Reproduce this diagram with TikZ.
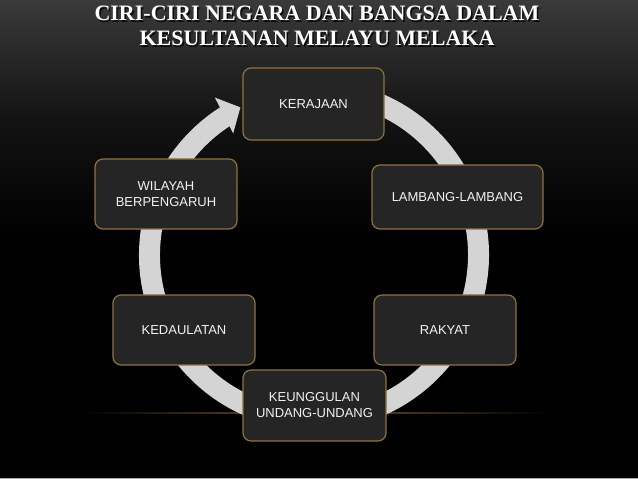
\documentclass[tikz,border=0pt]{standalone}
\usepackage{fontspec}
\setmainfont{Liberation Sans}
\newfontfamily\titlefont{Liberation Serif}
\definecolor{boxfill}{HTML}{252525}
\definecolor{boxedge}{HTML}{8E723E}
\definecolor{ringgray}{HTML}{D4D4D4}
\definecolor{bgtop}{HTML}{3A3A3A}
\definecolor{bgmid}{HTML}{131313}
\definecolor{glow}{HTML}{6A5228}
\definecolor{boxtext}{HTML}{F2F2F2}
\begin{document}
\begin{tikzpicture}[x=1pt,y=1pt,
  item/.style={draw=boxedge, line width=1.2pt, fill=boxfill, rounded corners=8pt,
    minimum width=142pt, minimum height=70pt, align=center, text=boxtext,
    font=\fontsize{13}{16}\selectfont, inner sep=0pt},
  titletext/.style={font=\titlefont\bfseries\fontsize{22}{25}\selectfont, anchor=base, inner sep=0pt},
  ring/.style={draw=ringgray, line width=21pt}
]
\useasboundingbox (0,0) rectangle (638,479);
% background
\fill[black] (0,0) rectangle (638,479);
\shade[top color=bgtop, bottom color=black, middle color=bgmid] (0,240) rectangle (638,479);
\fill[gray!70] (0,0) rectangle (638,1.2);
% glow line
\shade[left color=black, right color=black, middle color=glow] (80,65.2) rectangle (550,66.8);
% ring with arrow
\coordinate (c) at (314,224);
\path (c) ++(80:164.5) coordinate (rs);
\draw[ring] (rs) arc[start angle=80, end angle=-237.5, radius=164.5];
\fill[ringgray] ([shift={(122.2:186)}]c) -- ([shift={(116.5:165)}]c) -- ([shift={(123.6:146)}]c) -- cycle;
% title
\node[titletext, text=black, opacity=0.8] (t1s) at (318.5,456.5) {CIRI-CIRI NEGARA DAN BANGSA DALAM};
\node[titletext, text=black, opacity=0.8] (t2s) at (318.5,431.5) {KESULTANAN MELAYU MELAKA};
\node[titletext, text=white] (t1) at (317,458) {CIRI-CIRI NEGARA DAN BANGSA DALAM};
\node[titletext, text=white] (t2) at (317,433) {KESULTANAN MELAYU MELAKA};
% boxes
\node[item, minimum width=141pt, minimum height=72pt] (kerajaan) at (313.5,375) {KERAJAAN};
\node[item, minimum width=171pt, minimum height=64pt] (lambang) at (457.5,282) {LAMBANG-LAMBANG};
\node[item] (wilayah) at (166,285) {WILAYAH\\BERPENGARUH};
\node[item] (kedaulatan) at (184,149) {KEDAULATAN};
\node[item] (rakyat) at (445,149) {RAKYAT};
\node[item, minimum width=143pt, minimum height=71pt] (keunggulan) at (314.5,73.5) {KEUNGGULAN\\UNDANG-UNDANG};
\end{tikzpicture}
\end{document}
